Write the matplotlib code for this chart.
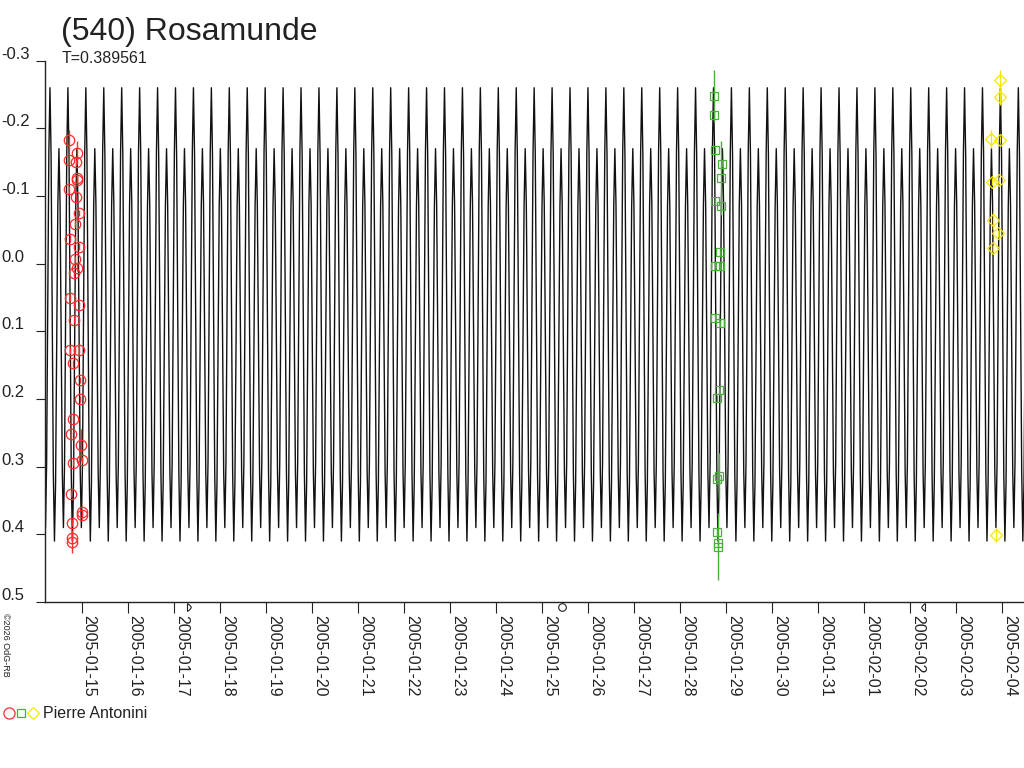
import datetime as dt
import numpy as np
import matplotlib
matplotlib.use("Agg")
import matplotlib.pyplot as plt
import matplotlib.transforms as mtransforms
from matplotlib.path import Path
from matplotlib.lines import Line2D

plt.rcParams['font.family'] = ['Liberation Sans', 'DejaVu Sans']

# times are days since 2005-01-15 00:00 UT, values are relative magnitudes
period = 0.389561
epoch = -0.689  # a main maximum of the model curve

# one rotation of the model light curve
shape_phase = [0.0, 0.0625, 0.125, 0.1875, 0.25, 0.3125, 0.375, 0.4375,
               0.5, 0.5625, 0.625, 0.6875, 0.75, 0.8125, 0.875, 0.9375]
shape_mag = [-0.26, -0.16, 0.075, 0.31, 0.41, 0.325, 0.12, -0.085,
             -0.17, -0.088, 0.11, 0.308, 0.39, 0.295, 0.065, -0.165]

red_t = [-0.276, -0.109, -0.269, -0.124, -0.109, -0.096, -0.269, -0.130, -0.065,
         -0.139, -0.254, -0.065, -0.152, -0.096, -0.161, -0.254, -0.052, -0.167,
         -0.254, -0.052, -0.182, -0.037, -0.037, -0.182, -0.232, -0.022, -0.196,
         0.000, -0.226, 0.000, 0.007, -0.204, -0.217, -0.217]
red_mag = [-0.183, -0.164, -0.153, -0.150, -0.126, -0.124, -0.110, -0.098, -0.075,
           -0.059, -0.037, -0.025, -0.007, 0.006, 0.014, 0.050, 0.061, 0.083,
           0.128, 0.128, 0.147, 0.172, 0.200, 0.229, 0.252, 0.268, 0.294,
           0.290, 0.340, 0.367, 0.372, 0.383, 0.405, 0.411]
red_err = [0.015, 0.017, 0.005, 0.005, 0.005, 0.005, 0.005, 0.005, 0.005,
           0.005, 0.005, 0.005, 0.005, 0.005, 0.005, 0.005, 0.005, 0.005,
           0.005, 0.009, 0.005, 0.005, 0.005, 0.005, 0.005, 0.024, 0.005,
           0.005, 0.005, 0.005, 0.005, 0.005, 0.005, 0.017]

green_t = [13.737, 13.743, 13.752, 13.910, 13.882, 13.752, 13.889, 13.874, 13.765,
           13.867, 13.765, 13.867, 13.846, 13.802, 13.846, 13.795, 13.808, 13.824,
           13.824]
green_mag = [-0.248, -0.220, -0.168, -0.148, -0.127, -0.092, -0.085, -0.017, 0.003,
             0.004, 0.080, 0.088, 0.187, 0.199, 0.314, 0.318, 0.397, 0.413, 0.418]
green_err = [0.038, 0.005, 0.005, 0.005, 0.055, 0.005, 0.005, 0.005, 0.005,
             0.005, 0.005, 0.005, 0.005, 0.005, 0.034, 0.005, 0.005, 0.005, 0.049]

yellow_t = [19.957, 19.957, 19.754, 19.950, 19.770, 19.935, 19.804, 19.913, 19.797,
            19.862]
yellow_mag = [-0.272, -0.246, -0.184, -0.183, -0.121, -0.123, -0.064, -0.045, -0.023,
              0.401]
yellow_err = [0.014, 0.012, 0.013, 0.005, 0.005, 0.005, 0.012, 0.005, 0.005, 0.010]

# moon phases: first quarter, full, last quarter
moon_t = [2.29, 10.44, 18.31]

start = dt.date(2005, 1, 15)
tick_days = list(range(21))
tick_labels = [(start + dt.timedelta(days=d)).isoformat() for d in tick_days]
ytick_vals = [-0.3, -0.2, -0.1, 0.0, 0.1, 0.2, 0.3, 0.4, 0.5]

ink = '#222222'
red = '#ff2a2a'
green = '#4cae3c'
yellow = '#f5e800'

fig = plt.figure(figsize=(10.24, 7.68), dpi=100)
ax = fig.add_axes([45 / 1024, 1 - 602 / 768, 979 / 1024, (602 - 60.7) / 768])

n = np.arange(-3, 57)
t_model = (epoch + (n[:, None] + np.array(shape_phase)[None, :]) * period).ravel()
m_model = np.tile(shape_mag, len(n))
ax.plot(t_model, m_model, color='#111111', lw=1.0, zorder=1)

ax.errorbar(red_t, red_mag, yerr=red_err, fmt='o', ms=7.5, mfc='none', mec=red,
            mew=0.9, ecolor=red, elinewidth=1, capsize=0, zorder=3)
ax.errorbar(green_t, green_mag, yerr=green_err, fmt='s', ms=6, mfc='none',
            mec=green, mew=0.9, ecolor=green, elinewidth=1, capsize=0, zorder=3)
ax.errorbar(yellow_t, yellow_mag, yerr=yellow_err, fmt='D', ms=6, mfc='none',
            mec=yellow, mew=0.9, ecolor=yellow, elinewidth=1, capsize=0, zorder=3)

ax.set_xlim(-0.797, 20.47)
ax.set_ylim(0.5, -0.3)

for side in ['top', 'right']:
    ax.spines[side].set_visible(False)
for side in ['left', 'bottom']:
    ax.spines[side].set_color(ink)
    ax.spines[side].set_linewidth(1.0)

ax.set_xticks(tick_days)
ax.set_xticklabels(tick_labels, rotation=270, ha='left', va='top', fontsize=11.5,
                   color=ink)
ax.tick_params(axis='x', direction='out', length=8, width=0.8, color=ink, pad=1.5)
ax.set_yticks(ytick_vals)
ax.set_yticklabels([])
ax.tick_params(axis='y', direction='out', length=6.5, width=0.8, color=ink)

ytrans = mtransforms.blended_transform_factory(fig.transFigure, ax.transData)
ytrans = ytrans + mtransforms.ScaledTranslation(0, 1.5 / 72, fig.dpi_scale_trans)
for v in ytick_vals:
    ax.text(1 / 1024, v, '%.1f' % v, transform=ytrans, ha='left', va='baseline',
            fontsize=12, color=ink, clip_on=False)

# moon phase symbols just under the time axis
first_q = Path([(0, 1), (0, -1), (0.7, -0.7), (1, 0), (0.7, 0.7), (0, 1)],
               [Path.MOVETO, Path.LINETO, Path.CURVE3, Path.CURVE3, Path.CURVE3,
                Path.CURVE3])
last_q = Path([(0, 1), (0, -1), (-0.7, -0.7), (-1, 0), (-0.7, 0.7), (0, 1)],
              [Path.MOVETO, Path.LINETO, Path.CURVE3, Path.CURVE3, Path.CURVE3,
               Path.CURVE3])
mtrans = mtransforms.blended_transform_factory(ax.transData, ax.transAxes)
for t, mk in zip(moon_t, [first_q, 'o', last_q]):
    ax.plot([t], [-0.009], marker=mk, ms=5.5, mfc='none', mec=ink, mew=0.8,
            transform=mtrans, clip_on=False)

fig.text(61 / 1024, 1 - 40 / 768, '(540) Rosamunde', fontsize=23, color=ink,
         va='baseline', ha='left')
fig.text(62 / 1024, 1 - 63 / 768, 'T=0.389561', fontsize=11.5, color=ink,
         va='baseline', ha='left')
fig.text(1 / 1024, 1 - 613 / 768, '\u00a92026 OdG-RB', fontsize=6.5, color=ink,
         rotation=270, va='top', ha='left')

# legend
ly = 1 - 713 / 768
for x, mk, c, s in [(9, 'o', red, 8), (21, 's', green, 6), (33, 'D', yellow, 6)]:
    fig.add_artist(Line2D([x / 1024], [ly], marker=mk, ms=s, mfc='none', mec=c,
                          mew=0.9, transform=fig.transFigure))
fig.text(43 / 1024, ly, 'Pierre Antonini', fontsize=11.5, color=ink,
         va='center', ha='left')

fig.savefig('out.png', dpi=100)
